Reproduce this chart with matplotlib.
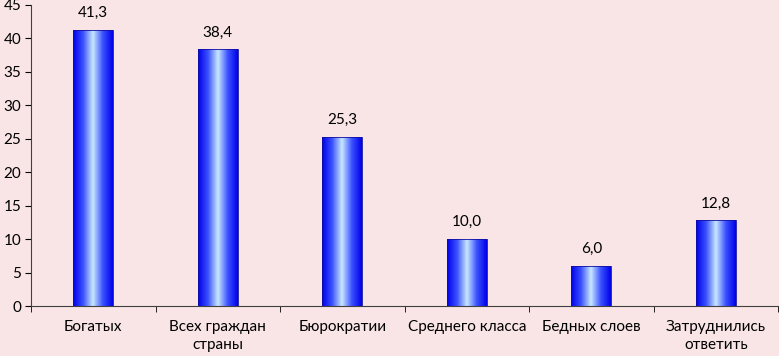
import numpy as np
import matplotlib
matplotlib.use("Agg")
import matplotlib.pyplot as plt
from matplotlib.colors import LinearSegmentedColormap

categories = ["Богатых", "Всех граждан\nстраны", "Бюрократии", "Среднего класса", "Бедных слоев", "Затруднились\nответить"]
values = [41.3, 38.4, 25.3, 10.0, 6.0, 12.8]
value_labels = ["41,3", "38,4", "25,3", "10,0", "6,0", "12,8"]
yticks = [0, 5, 10, 15, 20, 25, 30, 35, 40, 45]

bg = "#F9E5E5"
plt.rcParams['font.family'] = ['Lato', 'DejaVu Sans']

fig = plt.figure(figsize=(7.79, 3.56), dpi=100, facecolor=bg)
ax = fig.add_axes([31/779, 50/356, 1 - 31/779 - 0.001, 301/356])
ax.set_facecolor(bg)

x = np.arange(len(categories))
bars = ax.bar(x, values, width=0.32, color="none", edgecolor="#1010A0", linewidth=0.6, zorder=3)

cmap = LinearSegmentedColormap.from_list("g", ["#0000E8", "#3A50FF", "#C8E8FF", "#3A50FF", "#0000E8"])
grad = np.linspace(0, 1, 256).reshape(1, -1)
for b in bars:
    x0, y0 = b.get_x(), b.get_y()
    w, h = b.get_width(), b.get_height()
    im = ax.imshow(grad, extent=[x0, x0 + w, y0, y0 + h], cmap=cmap, aspect="auto", zorder=2)
    im.set_clip_path(b)

for xi, v, lab in zip(x, values, value_labels):
    ax.annotate(lab, (xi, v), xytext=(0, 7), textcoords="offset points", ha="center", va="bottom", fontsize=11)

ax.set_xlim(-0.5, len(categories) - 0.5)
ax.set_ylim(0, 45)
ax.set_yticks(yticks)
ax.tick_params(axis="y", labelsize=11, length=4, direction="out", pad=3)
ax.set_xticks(x)
ax.set_xticklabels(categories, fontsize=11, linespacing=1.35)
ax.tick_params(axis="x", which="major", length=0, pad=10)
ax.set_xticks(np.arange(len(categories) + 1) - 0.5, minor=True)
ax.tick_params(axis="x", which="minor", length=4, direction="out")
for s in ["top", "right"]:
    ax.spines[s].set_visible(False)
ax.spines["left"].set_color("#404040")
ax.spines["bottom"].set_color("#404040")

fig.savefig("out.png", dpi=100, facecolor=bg)
